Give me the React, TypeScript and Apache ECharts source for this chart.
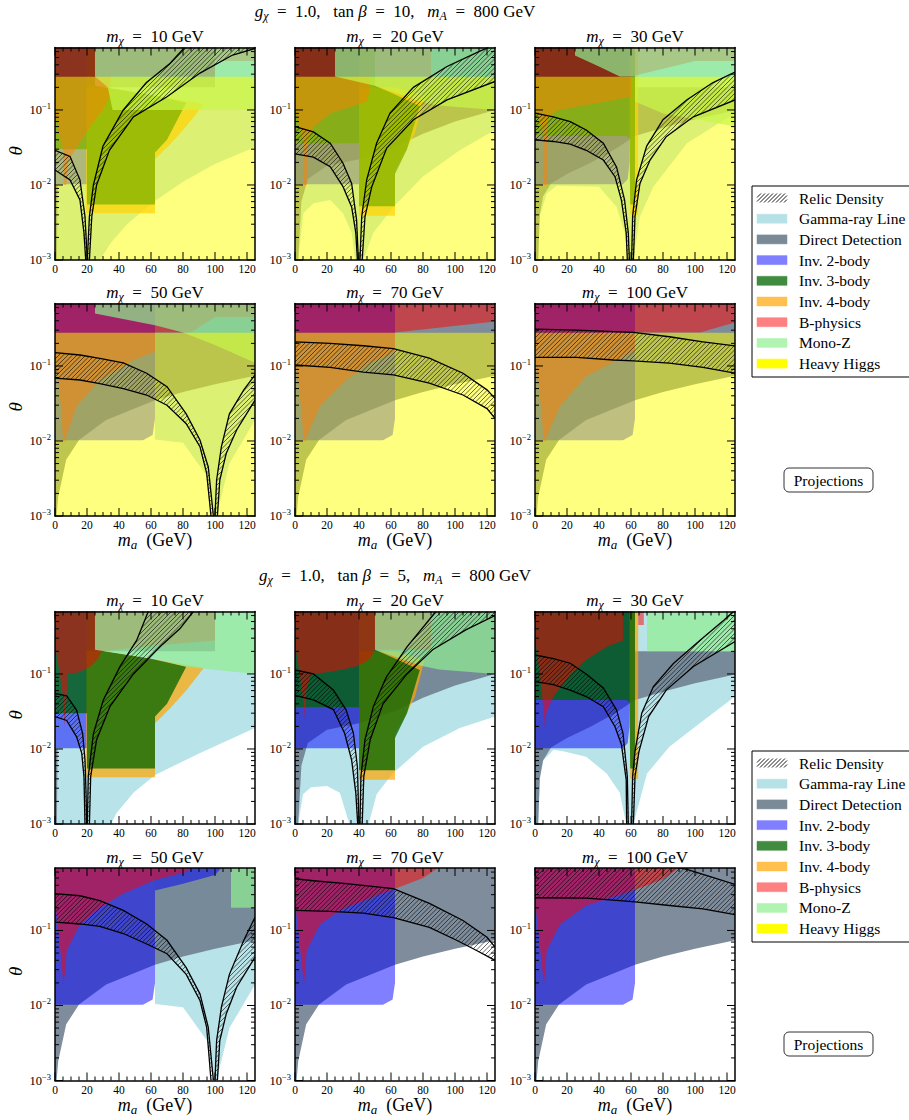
import React, { useEffect, useRef } from 'react';
import * as echarts from 'echarts';

type Pt = [number, number];
type Region = { c: string; p: Pt[] };
type Band = { a: Pt[]; b: Pt[]; corner?: Pt[] };

const TOP = 0.68;
const UP = 1;
const FONT = '"Liberation Serif", "DejaVu Serif", serif';

// ---- tick values ----
const xMajorTicks = [0, 20, 40, 60, 80, 100, 120];
const xMinorTicks = [5, 10, 15, 25, 30, 35, 45, 50, 55, 65, 70, 75, 85, 90, 95, 105, 110, 115];
const yMajorTicks = [0.001, 0.01, 0.1];
const yMinorTicks = [0.002, 0.003, 0.004, 0.005, 0.006, 0.007, 0.008, 0.009,
  0.02, 0.03, 0.04, 0.05, 0.06, 0.07, 0.08, 0.09, 0.2, 0.3, 0.4, 0.5, 0.6];

const mChi = [10, 20, 30, 50, 70, 100];
const tanBeta = [10, 5];

const legendLabels = ['Relic Density', 'Gamma-ray Line', 'Direct Detection', 'Inv. 2-body',
  'Inv. 3-body', 'Inv. 4-body', 'B-physics', 'Mono-Z', 'Heavy Higgs'];
const legendColors = ['', '#b6e1e7', '#7b8a97', '#7f7fff', '#408b40', '#ffc04d', '#ff8080', '#b1f3b1', '#ffff00'];

const COLORS: Record<string, string> = {
  G: 'rgba(176,224,230,0.9)',
  D: 'rgba(112,128,144,0.9)',
  I2: 'rgba(0,0,255,0.5)',
  I4: 'rgba(255,165,0,0.7)',
  I3: 'rgba(0,100,0,0.75)',
  B: 'rgba(255,0,0,0.5)',
  Z: 'rgba(144,238,144,0.7)',
  H: 'rgba(255,255,0,0.5)',
};

// ---- shared constraint regions (m_a, theta) ----
const heavy_higgs: Pt[] = [[0, 1e-3], [125, 1e-3], [125, 0.278], [0, 0.278]];

const dd_m10: Pt[] = [[0, 1e-3], [1.2, 1e-3], [1.6, 0.01], [0, 0.01]];
const dd_m10_top: Pt[] = [[20, UP], [100, UP], [100, 0.2], [20, 0.2]];
const dd_m20: Pt[] = [[0, 1e-3], [2, 1e-3], [4, 0.006], [8, 0.012], [20, 0.018], [40, 0.022], [62.5, 0.032], [80, 0.048], [100, 0.07], [125, 0.1], [125, UP], [0, UP]];
const dd_m30: Pt[] = [[0, 1e-3], [2, 1e-3], [3, 0.004], [5, 0.007], [10, 0.0105], [20, 0.014], [35, 0.02], [50, 0.03], [62.5, 0.045], [70, 0.05], [84, 0.061], [100, 0.075], [125, 0.098], [125, 0.2], [62.5, 0.2], [62.5, UP], [0, UP]];
const dd_heavy: Pt[] = [[0, 1e-3], [1, 1e-3], [2, 0.0018], [7, 0.0056], [15, 0.0103], [32, 0.019], [62.5, 0.035], [80, 0.045], [100, 0.057], [125, 0.074], [125, UP], [0, UP]];

const inv2_m10: Pt[] = [[0, 0.0102], [20, 0.0102], [20, UP], [0, UP]];
const inv2_m20: Pt[] = [[0, 0.0102], [40, 0.0102], [40, UP], [0, UP]];
const inv2_m30: Pt[] = [[0, 0.0102], [55, 0.0102], [58, 0.012], [59, 0.02], [59, UP], [0, UP]];
const inv2_heavy: Pt[] = [[0, 0.0102], [55, 0.0102], [61, 0.012], [62.5, 0.02], [62.5, UP], [0, UP]];
const inv2_q4: Pt[] = [[0, 0.0102], [55, 0.0102], [61, 0.012], [62.5, 0.02], [62.5, 0.34], [80, 0.42], [100, 0.55], [111, UP], [0, UP]];

const inv4_m10: Pt[] = [[19.5, 0.0042], [62.5, 0.0042], [62.5, 0.022], [72, 0.035], [82, 0.06], [93, 0.12], [60, 0.16], [25, 0.21], [19.5, 0.21]];
const inv3_m10: Pt[] = [[0, 0.03], [20, 0.03], [20, 0.0055], [62.5, 0.0055], [62.5, 0.027], [70, 0.04], [82, 0.125], [60, 0.16], [25, 0.21], [25, UP], [0, UP]];
const inv4_m20: Pt[] = [[40, 0.0039], [62.5, 0.0039], [62.5, 0.016], [68, 0.025], [75, 0.05], [81, 0.155], [62.5, 0.2], [40, 0.2]];
const inv3_m20: Pt[] = [[0, 0.036], [40, 0.036], [40, 0.0052], [62.5, 0.0052], [62.5, 0.014], [70, 0.03], [78, 0.113], [60, 0.17], [50, 0.21], [50, UP], [0, UP]];
const inv4_m30: Pt[] = [[59.5, 0.004], [64.5, 0.004], [64.5, UP], [59.5, UP]];
const inv3_m30: Pt[] = [[0, 0.045], [57, 0.045], [59, 0.042], [59.5, 0.0055], [62.5, 0.0055], [62.5, UP], [0, UP]];

const monoz_m10: Pt[] = [[25, UP], [25, 0.21], [62.5, 0.16], [82, 0.125], [125, 0.1], [125, UP]];

// ---- tan beta = 10 block ----
const p1_gamma: Pt[] = [[0, 1e-3], [28, 1e-3], [35, 0.0017], [45, 0.003], [62, 0.006], [80, 0.011], [100, 0.019], [125, 0.032], [125, UP], [0, UP]];
const p1_bphys: Pt[] = [[0, UP], [125, UP], [125, 0.45], [100, 0.45], [100, 0.28], [35, 0.28], [34, 0.15], [30, 0.1], [22, 0.06], [15, 0.035], [10, 0.024], [8, 0.02], [7, 0.01], [5.5, 0.01], [5, 0.03], [2, 0.05], [0, 0.1]];
const p1_monoz: Pt[] = [[25, UP], [25, 0.28], [33, 0.2], [36, 0.1], [125, 0.1], [125, UP]];

const p2_gamma: Pt[] = [[0, 1e-3], [2, 1e-3], [5.2, 0.0042], [11.5, 0.0057], [22, 0.0063], [30, 0.0042], [35.4, 0.0023], [37.5, 1e-3], [42.7, 1e-3], [49, 0.0023], [61.5, 0.0051], [80, 0.013], [103, 0.029], [125, 0.054], [125, UP], [0, UP]];
const p2_bphys: Pt[] = [[0, UP], [85, UP], [85, 0.28], [47, 0.28], [47, 0.2], [45, 0.13], [35, 0.11], [22, 0.09], [12, 0.06], [8, 0.04], [7.5, 0.01], [5.5, 0.01], [5, 0.04], [2, 0.07], [0, 0.1]];
const p2_monoz: Pt[] = [[25, UP], [25, 0.28], [50, 0.21], [62.5, 0.17], [78, 0.13], [90, 0.115], [125, 0.1], [125, UP]];

const p3_gamma: Pt[] = [[0, 1e-3], [2, 1e-3], [3, 0.0038], [7.3, 0.0077], [13.5, 0.0098], [40, 0.0095], [51, 0.0051], [56, 0.0023], [58, 1e-3], [61.5, 1e-3], [65.6, 0.0038], [74, 0.0095], [95, 0.036], [125, 0.091], [125, UP], [0, UP]];
const p3_bphys: Pt[] = [[0, UP], [125, UP], [125, 0.45], [100, 0.45], [60, 0.28], [60, 0.15], [45, 0.13], [30, 0.115], [15, 0.1], [8, 0.08], [7.5, 0.01], [5.5, 0.01], [5, 0.05], [2, 0.08], [0, 0.1]];
const p3_monoz: Pt[] = [[25, UP], [25, 0.53], [40, 0.38], [53, 0.28], [62.5, 0.28], [62.5, 0.13], [80, 0.09], [100, 0.075], [125, 0.06], [125, UP]];

const m50_gamma: Pt[] = [[62.5, 0.0105], [80, 0.0095], [95, 0.0034], [99, 1e-3], [101, 1e-3], [109, 0.005], [125, 0.019], [125, UP], [62.5, UP]];
const p4_bphys: Pt[] = [[0, UP], [125, UP], [125, 0.45], [100, 0.45], [85, 0.28], [62.5, 0.28], [62.5, 0.155], [49, 0.12], [28, 0.065], [13.5, 0.029], [6, 0.01], [5, 0.01], [4, 0.025], [2, 0.06], [0, 0.12]];
const p4_monoz: Pt[] = [[25, UP], [25, 0.5], [62.5, 0.35], [80, 0.28], [100, 0.19], [125, 0.11], [125, UP]];
const p5_bphys: Pt[] = [[0, UP], [125, UP], [125, 0.39], [62.5, 0.28], [62.5, 0.155], [47, 0.11], [32, 0.065], [15.6, 0.029], [6.2, 0.01], [5.5, 0.01], [4, 0.025], [2, 0.06], [0, 0.12]];
const p6_bphys: Pt[] = [[0, UP], [125, UP], [125, 0.38], [103, 0.28], [62.5, 0.28], [62.5, 0.16], [32, 0.073], [15.6, 0.029], [6.2, 0.01], [5.5, 0.01], [4, 0.025], [2, 0.06], [0, 0.12]];

// ---- tan beta = 5 block ----
const q1_gamma: Pt[] = [[0, 1e-3], [35, 1e-3], [38.5, 0.0014], [49, 0.0026], [62.5, 0.0045], [90, 0.0087], [125, 0.019], [125, UP], [0, UP]];
const q1_bphys: Pt[] = [[0, UP], [100, UP], [100, 0.28], [62.5, 0.24], [29, 0.2], [27, 0.16], [22, 0.125], [15, 0.105], [8, 0.1], [6.8, 0.035], [6, 0.02], [5, 0.05], [3, 0.1], [0, 0.25]];
const q2_gamma: Pt[] = [[0, 1e-3], [2, 1e-3], [5, 0.0025], [10, 0.0031], [20, 0.0032], [28, 0.0026], [34, 1e-3], [46, 1e-3], [51, 0.0025], [61, 0.0047], [80, 0.0107], [103, 0.019], [125, 0.027], [125, UP], [0, UP]];
const q2_bphys: Pt[] = [[0, UP], [85, UP], [85, 0.21], [50, 0.21], [47, 0.16], [40, 0.13], [30, 0.115], [20, 0.105], [10, 0.1], [7, 0.06], [6.5, 0.02], [5.5, 0.04], [3, 0.1], [0, 0.25]];
const q2_monoz: Pt[] = [[50, UP], [50, 0.21], [62.5, 0.17], [78, 0.13], [90, 0.115], [125, 0.1], [125, UP]];
const q3_gamma: Pt[] = [[0, 1e-3], [2, 1e-3], [3, 0.0043], [5.2, 0.007], [11.5, 0.0098], [17.7, 0.0093], [32, 0.0079], [44.8, 0.0047], [53, 0.0026], [57, 1e-3], [61.5, 1e-3], [70, 0.0047], [84, 0.0107], [103, 0.022], [125, 0.05], [125, UP], [0, UP]];
const q3_bphys: Pt[] = [[0, UP], [55, UP], [55, 0.28], [45, 0.23], [32, 0.155], [22, 0.098], [11.5, 0.05], [7, 0.03], [6.2, 0.019], [5.5, 0.03], [3, 0.1], [0, 0.3]];
const q3_bphys_top: Pt[] = [[64.5, 0.45], [68, 0.45], [68, UP], [64.5, UP]];
const q3_monoz: Pt[] = [[70, UP], [70, 0.2], [125, 0.2], [125, UP]];
const q4_bphys: Pt[] = [[0, 0.25], [2, 0.1], [4, 0.04], [5.2, 0.019], [6.5, 0.03], [7.3, 0.054], [15.6, 0.12], [28, 0.2], [42.7, 0.31], [62.5, 0.47], [82, 0.6], [95, UP], [0, UP]];
const q4_monoz: Pt[] = [[110, UP], [110, 0.2], [125, 0.2], [125, UP]];
const q5_bphys: Pt[] = [[0, 0.26], [2, 0.1], [4, 0.04], [5.6, 0.019], [6.5, 0.03], [7.3, 0.054], [15.6, 0.12], [28, 0.185], [45, 0.26], [62.5, 0.36], [80, 0.5], [101, UP], [0, UP]];
const q6_bphys: Pt[] = [[0, 0.26], [2, 0.1], [4, 0.04], [5.6, 0.019], [6.5, 0.03], [7.3, 0.054], [15.6, 0.12], [32, 0.215], [49, 0.28], [62.5, 0.35], [80, 0.48], [101, UP], [0, UP]];

// ---- relic density bands ----
const relic_p1: Band[] = [
  { a: [[0, 0.029], [9.4, 0.024], [15.6, 0.0117], [18.75, 0.0038], [20.2, 0.001]], b: [[0, 0.0158], [9.4, 0.0117], [15.6, 0.0063], [18.1, 0.0023], [19.2, 0.001]] },
  { a: [[20.2, 0.001], [21.5, 0.0038], [24, 0.01], [30, 0.033], [42.7, 0.1], [57, 0.23], [72, 0.42], [81, 0.68]], b: [[21.5, 0.001], [23, 0.0038], [26, 0.01], [34, 0.029], [49, 0.081], [70, 0.15], [90.6, 0.31], [111, 0.54], [125, 0.66]], corner: [[125, UP]] },
];
const relic_p2: Band[] = [
  { a: [[0, 0.06], [11.5, 0.051], [22, 0.036], [30, 0.0195], [35.4, 0.0105], [38.5, 0.0034], [39.6, 0.001]], b: [[0, 0.026], [11.5, 0.0235], [22, 0.0175], [30, 0.0095], [35.4, 0.0051], [38, 0.0023], [39, 0.001]] },
  { a: [[40.6, 0.001], [41.7, 0.0038], [44.8, 0.0117], [51, 0.036], [59.4, 0.091], [74, 0.2], [95, 0.38], [115.6, 0.61], [121, 0.68]], b: [[42, 0.001], [43.75, 0.0038], [48, 0.0095], [57.3, 0.031], [74, 0.074], [95, 0.136], [125, 0.24]], corner: [[125, UP]] },
];
const relic_p3: Band[] = [
  { a: [[0, 0.091], [11.5, 0.081], [22, 0.07], [32, 0.054], [42.7, 0.036], [51, 0.0173], [56, 0.0063], [58.3, 0.0023], [59, 0.001]], b: [[0, 0.04], [11.5, 0.038], [22, 0.035], [32, 0.029], [42.7, 0.0215], [50, 0.0129], [54, 0.0063], [57, 0.0023], [57.7, 0.001]] },
  { a: [[60.4, 0.001], [61, 0.0038], [63.5, 0.0117], [69.8, 0.033], [80, 0.074], [94.8, 0.136], [111, 0.23], [125, 0.32]], b: [[61.5, 0.001], [62.5, 0.0038], [65.6, 0.0105], [71.9, 0.0215], [82, 0.044], [99, 0.081], [125, 0.136]] },
];
const relic_p4: Band[] = [
  { a: [[0, 0.151], [15.6, 0.14], [28, 0.126], [42.7, 0.11], [57.3, 0.08], [70, 0.053], [82, 0.023], [90.6, 0.0103], [95.8, 0.0045], [99, 0.001]], b: [[0, 0.069], [15.6, 0.065], [28, 0.058], [42.7, 0.05], [57.3, 0.041], [70, 0.03], [82, 0.017], [90.6, 0.0084], [94.8, 0.0037], [97.5, 0.001]] },
  { a: [[100, 0.001], [101, 0.003], [104, 0.0084], [109, 0.023], [118, 0.048], [125, 0.076]], b: [[101.5, 0.001], [103, 0.003], [107, 0.0068], [113.5, 0.014], [125, 0.035]] },
];
const relic_p5: Band[] = [
  { a: [[0, 0.21], [22, 0.2], [42.7, 0.186], [61.5, 0.17], [84, 0.127], [105, 0.08], [120, 0.048], [125, 0.037]], b: [[0, 0.103], [22, 0.096], [42.7, 0.083], [61.5, 0.076], [84, 0.059], [105, 0.041], [120, 0.027], [125, 0.02]] },
];
const relic_p6: Band[] = [
  { a: [[0, 0.31], [26, 0.3], [61.5, 0.28], [84, 0.245], [105, 0.21], [125, 0.185]], b: [[0, 0.13], [26, 0.13], [49, 0.12], [61.5, 0.117], [84, 0.109], [105, 0.096], [125, 0.08]] },
];
const relic_q1: Band[] = [
  { a: [[0, 0.055], [7.3, 0.051], [13.5, 0.033], [17.3, 0.016], [18.75, 0.0071], [19.4, 0.0026], [19.8, 0.001]], b: [[0, 0.027], [7.3, 0.024], [13.5, 0.0145], [16.7, 0.0088], [18.1, 0.0043], [18.75, 0.001]] },
  { a: [[20.2, 0.001], [20.8, 0.0043], [24, 0.016], [30.2, 0.045], [40.6, 0.125], [51, 0.28], [58.3, 0.68]], b: [[21.5, 0.001], [22.3, 0.0043], [26, 0.0133], [34.4, 0.037], [49, 0.1], [65.6, 0.23], [78, 0.4], [86.5, 0.68]] },
];
const relic_q2: Band[] = [
  { a: [[0, 0.113], [11.5, 0.1], [24, 0.061], [32, 0.033], [36.5, 0.0162], [39, 0.0058], [40, 0.001]], b: [[0, 0.052], [11.5, 0.045], [24, 0.0335], [31, 0.0162], [35.4, 0.0071], [38, 0.0026], [39.2, 0.001]] },
  { a: [[40.6, 0.001], [41.2, 0.0043], [43.75, 0.0133], [49, 0.037], [57, 0.09], [70, 0.23], [83, 0.5], [88, 0.68]], b: [[42, 0.001], [43, 0.0043], [47, 0.0133], [55, 0.04], [70, 0.1], [86, 0.21], [107, 0.39], [125, 0.6]], corner: [[125, UP]] },
];
const relic_q3: Band[] = [
  { a: [[0, 0.179], [11.5, 0.16], [22, 0.139], [32, 0.1], [42.7, 0.065], [51, 0.033], [55, 0.0162], [57.7, 0.0043], [58.3, 0.001]], b: [[0, 0.079], [11.5, 0.072], [22, 0.061], [32, 0.05], [42.7, 0.0366], [50, 0.0198], [54, 0.0115], [57, 0.0039], [57.3, 0.001]] },
  { a: [[60.4, 0.001], [61, 0.0043], [62.5, 0.0093], [66.7, 0.03], [74, 0.068], [86.5, 0.138], [103, 0.28], [118, 0.52], [124, 0.68]], b: [[61.5, 0.001], [62.5, 0.0043], [65, 0.0093], [71, 0.027], [82, 0.061], [99, 0.126], [125, 0.27]], corner: [[125, UP]] },
];
const relic_q4: Band[] = [
  { a: [[0, 0.31], [15.6, 0.29], [28, 0.25], [42.7, 0.185], [57.3, 0.122], [70, 0.074], [82, 0.032], [90.6, 0.0143], [95.8, 0.0051], [99, 0.001]], b: [[0, 0.129], [15.6, 0.122], [28, 0.113], [42.7, 0.091], [57.3, 0.066], [70, 0.049], [82, 0.026], [90.6, 0.0117], [94.8, 0.0051], [97.5, 0.001]] },
  { a: [[100, 0.001], [101, 0.0034], [104, 0.0095], [109, 0.026], [118, 0.074], [125, 0.15]], b: [[101.5, 0.001], [103, 0.0034], [107, 0.0077], [113.5, 0.0175], [125, 0.044]] },
];
const relic_q5: Band[] = [
  { a: [[0, 0.489], [11.5, 0.46], [32, 0.42], [61.5, 0.36], [84, 0.23], [105, 0.136], [120, 0.081], [125, 0.06]], b: [[0, 0.185], [22, 0.18], [42.7, 0.17], [61.5, 0.148], [84, 0.11], [101, 0.074], [113.5, 0.054], [125, 0.04]] },
];
const relic_q6: Band[] = [
  { a: [[0, 0.9], [60, 0.85], [80, 0.75], [95, 0.65], [111, 0.51], [125, 0.41]], b: [[0, 0.273], [32, 0.27], [53, 0.25], [62.5, 0.24], [84, 0.215], [105, 0.194], [125, 0.163]] },
];

const R = (c: string, p: Pt[]): Region => ({ c, p });

const panelRegions: Region[][] = [
  [R('G', p1_gamma), R('D', dd_m10), R('D', dd_m10_top), R('I2', inv2_m10), R('I4', inv4_m10), R('I3', inv3_m10), R('B', p1_bphys), R('Z', p1_monoz), R('H', heavy_higgs)],
  [R('G', p2_gamma), R('D', dd_m20), R('I2', inv2_m20), R('I4', inv4_m20), R('I3', inv3_m20), R('B', p2_bphys), R('Z', p2_monoz), R('H', heavy_higgs)],
  [R('G', p3_gamma), R('D', dd_m30), R('I2', inv2_m30), R('I4', inv4_m30), R('I3', inv3_m30), R('B', p3_bphys), R('Z', p3_monoz), R('H', heavy_higgs)],
  [R('G', m50_gamma), R('D', dd_heavy), R('I2', inv2_heavy), R('B', p4_bphys), R('Z', p4_monoz), R('H', heavy_higgs)],
  [R('D', dd_heavy), R('I2', inv2_heavy), R('B', p5_bphys), R('H', heavy_higgs)],
  [R('D', dd_heavy), R('I2', inv2_heavy), R('B', p6_bphys), R('H', heavy_higgs)],
  [R('G', q1_gamma), R('D', dd_m10), R('D', dd_m10_top), R('I2', inv2_m10), R('I4', inv4_m10), R('I3', inv3_m10), R('B', q1_bphys), R('Z', monoz_m10)],
  [R('G', q2_gamma), R('D', dd_m20), R('I2', inv2_m20), R('I4', inv4_m20), R('I3', inv3_m20), R('B', q2_bphys), R('Z', q2_monoz)],
  [R('G', q3_gamma), R('D', dd_m30), R('I2', inv2_m30), R('I4', inv4_m30), R('I3', inv3_m30), R('B', q3_bphys), R('B', q3_bphys_top), R('Z', q3_monoz)],
  [R('G', m50_gamma), R('D', dd_heavy), R('I2', inv2_q4), R('B', q4_bphys), R('Z', q4_monoz)],
  [R('D', dd_heavy), R('I2', inv2_heavy), R('B', q5_bphys)],
  [R('D', dd_heavy), R('I2', inv2_heavy), R('B', q6_bphys)],
];
const panelRelic: Band[][] = [relic_p1, relic_p2, relic_p3, relic_p4, relic_p5, relic_p6,
  relic_q1, relic_q2, relic_q3, relic_q4, relic_q5, relic_q6];

// ---- layout ----
const GRID_LEFT = [55, 295, 535];
const GRID_TOP = [47.5, 303.5, 611.5, 868];
const GRID_W = 200;
const GRID_H = 212.5;

const tickItems: { t: string; v: number }[] = [
  ...xMajorTicks.map((v) => ({ t: 'xM', v })),
  ...xMinorTicks.map((v) => ({ t: 'xm', v })),
  ...yMajorTicks.map((v) => ({ t: 'yM', v })),
  ...yMinorTicks.map((v) => ({ t: 'ym', v })),
];

function hatchSegments(poly: number[][], rect: any, step: number) {
  const segs: number[][] = [];
  let minC = Infinity, maxC = -Infinity;
  for (const p of poly) { const c = p[0] + p[1]; if (c < minC) minC = c; if (c > maxC) maxC = c; }
  const rMin = rect.x + rect.y, rMax = rect.x + rect.width + rect.y + rect.height;
  const c0 = Math.max(minC, rMin), c1 = Math.min(maxC, rMax);
  for (let c = Math.ceil(c0 / step) * step; c <= c1; c += step) {
    const xs: number[] = [];
    for (let k = 0; k < poly.length; k++) {
      const p = poly[k], q = poly[(k + 1) % poly.length];
      const fp = p[0] + p[1] - c, fq = q[0] + q[1] - c;
      if ((fp > 0) !== (fq > 0)) { const t = fp / (fp - fq); xs.push(p[0] + (q[0] - p[0]) * t); }
    }
    xs.sort((a, b) => a - b);
    const lo = Math.max(rect.x, c - rect.y - rect.height), hi = Math.min(rect.x + rect.width, c - rect.y);
    for (let k = 0; k + 1 < xs.length; k += 2) {
      const a = Math.max(xs[k], lo), b = Math.min(xs[k + 1], hi);
      if (b > a) segs.push([a, c - a, b, c - b]);
    }
  }
  return segs;
}

const titleRich = (size: number) => ({
  i: { fontFamily: FONT, fontStyle: 'italic', fontSize: size, color: '#000' },
  n: { fontFamily: FONT, fontSize: size, color: '#000' },
  s: { fontFamily: FONT, fontStyle: 'italic', fontSize: Math.round(size * 0.7), color: '#000', padding: [Math.round(size * 0.5), 0, 0, 0] },
});

function textEl(x: number, y: number, text: string, size: number, rotation = 0) {
  return {
    type: 'text', x, y, rotation, z: 100, silent: true,
    style: { text, rich: titleRich(size), align: 'center', verticalAlign: 'middle', textAlign: 'center', textVerticalAlign: 'middle', fontFamily: FONT, fontSize: size, fill: '#000' },
  };
}

function buildOption() {
  const grid: any[] = [], xAxis: any[] = [], yAxis: any[] = [], series: any[] = [];
  const graphic: any[] = [];
  const axisLine = { show: true, onZero: false, lineStyle: { color: '#000', width: 1.5 } };

  for (let i = 0; i < 12; i++) {
    const block = i < 6 ? 0 : 1;
    const r = Math.floor((i % 6) / 3);
    const c = i % 3;
    const top = GRID_TOP[block * 2 + r];
    const left = GRID_LEFT[c];
    grid.push({ left, top, width: GRID_W, height: GRID_H, containLabel: false });
    xAxis.push({
      gridIndex: i, type: 'value', min: 0, max: 125, interval: 20, position: 'bottom', z: 10,
      axisLine, axisTick: { show: false }, splitLine: { show: false },
      axisLabel: { show: true, showMaxLabel: false, margin: 3, fontFamily: FONT, fontSize: 11.5, color: '#000' },
    });
    xAxis.push({
      gridIndex: i, type: 'value', min: 0, max: 125, interval: 20, position: 'top', z: 10,
      axisLine, axisTick: { show: false }, splitLine: { show: false }, axisLabel: { show: false },
    });
    yAxis.push({
      gridIndex: i, type: 'log', logBase: 10, min: 0.001, max: TOP, position: 'left', z: 10,
      axisLine, axisTick: { show: false }, splitLine: { show: false },
      axisLabel: {
        show: true, showMaxLabel: false, margin: 4,
        formatter: (v: number) => {
          const e = Math.log10(v); const rr = Math.round(e);
          if (Math.abs(e - rr) > 0.02) return '';
          return '{b|10}{s|\u2212' + Math.abs(rr) + '}';
        },
        rich: {
          b: { fontFamily: FONT, fontSize: 12.5, color: '#000' },
          s: { fontFamily: FONT, fontSize: 8.5, color: '#000', padding: [0, 0, 8, 0] },
        },
      },
    });
    yAxis.push({
      gridIndex: i, type: 'log', logBase: 10, min: 0.001, max: TOP, position: 'right', z: 10,
      axisLine, axisTick: { show: false }, splitLine: { show: false }, axisLabel: { show: false },
    });
    const xi = 2 * i, yi = 2 * i;
    const regs = panelRegions[i];
    series.push({
      type: 'custom', xAxisIndex: xi, yAxisIndex: yi, clip: true, silent: true, z: 2,
      data: regs.map((_, k) => [k, 0.01]),
      renderItem: (params: any, api: any) => {
        const reg = regs[params.dataIndex];
        return { type: 'polygon', shape: { points: reg.p.map((p) => api.coord(p)) }, style: { fill: COLORS[reg.c] } };
      },
    });
    const bands = panelRelic[i];
    series.push({
      type: 'custom', xAxisIndex: xi, yAxisIndex: yi, clip: true, silent: true, z: 3,
      data: bands.map((_, k) => [k, 0.01]),
      renderItem: (params: any, api: any) => {
        const b = bands[params.dataIndex];
        const poly = [...b.a, ...(b.corner || []), ...b.b.slice().reverse()].map((p) => api.coord(p));
        const rect = params.coordSys;
        const segs = hatchSegments(poly, rect, 4.5);
        return {
          type: 'group',
          children: segs.map((s) => ({ type: 'line', shape: { x1: s[0], y1: s[1], x2: s[2], y2: s[3] }, style: { stroke: 'rgba(0,0,0,0.75)', lineWidth: 0.8 } })),
        };
      },
    });
    const curves: Pt[][] = [];
    bands.forEach((b) => { curves.push(b.a); curves.push(b.b); });
    series.push({
      type: 'custom', xAxisIndex: xi, yAxisIndex: yi, clip: true, silent: true, z: 4,
      data: curves.map((_, k) => [k, 0.01]),
      renderItem: (params: any, api: any) => {
        const cv = curves[params.dataIndex];
        return { type: 'polyline', shape: { points: cv.map((p) => api.coord(p)) }, style: { stroke: '#000', lineWidth: 1.3, fill: 'none' } };
      },
    });
    series.push({
      type: 'custom', xAxisIndex: xi, yAxisIndex: yi, clip: false, silent: true, z: 12,
      data: tickItems.map((_, k) => [k, 0.01]),
      renderItem: (params: any, api: any) => {
        const it = tickItems[params.dataIndex];
        const rc = params.coordSys;
        const st = { stroke: '#000', lineWidth: 1 };
        if (it.t === 'xM' || it.t === 'xm') {
          const L = it.t === 'xM' ? 8 : 4;
          const px = api.coord([it.v, 0.01])[0];
          const yb = rc.y + rc.height, yt = rc.y;
          return { type: 'group', children: [
            { type: 'line', shape: { x1: px, y1: yb, x2: px, y2: yb - L }, style: st },
            { type: 'line', shape: { x1: px, y1: yt, x2: px, y2: yt + L }, style: st },
          ] };
        }
        const L = it.t === 'yM' ? 8 : 4;
        const py = api.coord([0, it.v])[1];
        const xl = rc.x, xr = rc.x + rc.width;
        return { type: 'group', children: [
          { type: 'line', shape: { x1: xl, y1: py, x2: xl + L, y2: py }, style: st },
          { type: 'line', shape: { x1: xr, y1: py, x2: xr - L, y2: py }, style: st },
        ] };
      },
    });

    graphic.push(textEl(left + GRID_W / 2, top - 11, '{i|m}{s|\u03c7}{n|  =  ' + mChi[i % 6] + ' GeV}', 17));
    if (c === 0) graphic.push(textEl(15, top + GRID_H / 2 - 3, '{i|\u03b8}', 19, Math.PI / 2));
    if (r === 1) graphic.push(textEl(left + GRID_W / 2, top + GRID_H + 24, '{i|m}{s|a}{n|  (GeV)}', 18));
  }

  const blockTitleY = [11, 575];
  const legendTop = [186, 751];
  const projTop = [468, 1032];
  for (let b = 0; b < 2; b++) {
    graphic.push(textEl(395, blockTitleY[b], '{i|g}{s|\u03c7}{n|  =  1.0,   tan }{i|\u03b2}{n|  =  ' + tanBeta[b] + ',   }{i|m}{s|A}{n|  =  800 GeV}', 17));
    const lt = legendTop[b];
    graphic.push({ type: 'rect', z: 90, silent: true, shape: { x: 752, y: lt, width: 170, height: 191 }, style: { fill: '#fff', stroke: '#000', lineWidth: 1 } });
    legendLabels.forEach((lab, k) => {
      const cy = lt + 12 + k * 20.7;
      const px = 757, pw = 30, ph = 9, py = cy - ph / 2;
      if (k === 0) {
        for (let cc = px + py; cc <= px + pw + py + ph; cc += 4) {
          const x1 = Math.max(px, cc - (py + ph)), x2 = Math.min(px + pw, cc - py);
          if (x2 > x1) graphic.push({ type: 'line', z: 95, silent: true, shape: { x1, y1: cc - x1, x2, y2: cc - x2 }, style: { stroke: '#000', lineWidth: 0.9 } });
        }
      } else {
        graphic.push({ type: 'rect', z: 95, silent: true, shape: { x: px, y: py, width: pw, height: ph }, style: { fill: legendColors[k], stroke: legendColors[k], lineWidth: 0.5 } });
      }
      graphic.push({ type: 'text', z: 95, silent: true, x: 799, y: cy, style: { text: lab, fontFamily: FONT, fontSize: 15.5, fill: '#000', align: 'left', verticalAlign: 'middle', textAlign: 'left', textVerticalAlign: 'middle' } });
    });
    const pt = projTop[b];
    graphic.push({ type: 'rect', z: 90, silent: true, shape: { x: 784, y: pt, width: 89, height: 24, r: 5 }, style: { fill: '#fff', stroke: '#333', lineWidth: 1 } });
    graphic.push({ type: 'text', z: 95, silent: true, x: 828.5, y: pt + 12, style: { text: 'Projections', fontFamily: FONT, fontSize: 15.5, fill: '#000', align: 'center', verticalAlign: 'middle', textAlign: 'center', textVerticalAlign: 'middle' } });
  }

  return { animation: false, backgroundColor: '#fff', grid, xAxis, yAxis, series, graphic: { elements: graphic } };
}

export default function App() {
  const ref = useRef<HTMLDivElement>(null);
  useEffect(() => {
    document.body.style.margin = '0';
    if (!ref.current) return;
    const chart = echarts.init(ref.current, null, { renderer: 'svg' });
    chart.setOption(buildOption() as any);
    return () => chart.dispose();
  }, []);
  return <div ref={ref} style={{ width: 909, height: 1120 }} />;
}
